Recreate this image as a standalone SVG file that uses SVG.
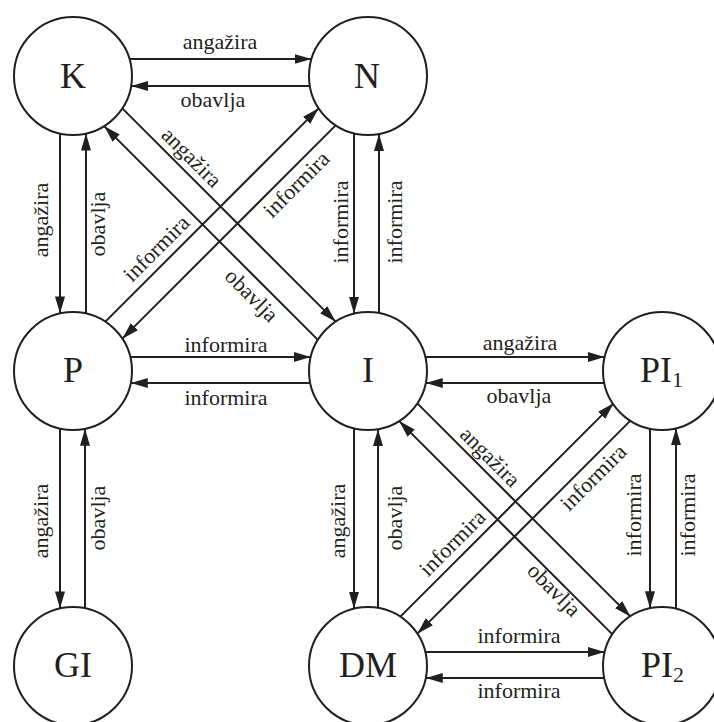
<svg xmlns="http://www.w3.org/2000/svg" width="714" height="722" viewBox="0 0 714 722">
<defs>
<marker id="ah" markerUnits="userSpaceOnUse" markerWidth="18" markerHeight="11" refX="17" refY="5" orient="auto">
<path d="M0,0 L17,5 L0,10 z" fill="#231f20"/>
</marker>
<style>
.node circle{fill:#fff;stroke:#231f20;stroke-width:2}
.node text{font-family:"Liberation Serif","Times New Roman",serif;font-size:36px;fill:#231f20;text-anchor:middle}
.node text.s{text-anchor:start}
#edges line{stroke:#231f20;stroke-width:2;marker-end:url(#ah)}
.lbl{font-family:"Liberation Serif","Times New Roman",serif;font-size:22px;fill:#231f20;text-anchor:middle}
</style>
</defs>
<rect width="714" height="722" fill="#fff"/>
<g id="edges">
<!-- K-N -->
<line x1="129.5" y1="59" x2="311.5" y2="59"/>
<line x1="309.85" y1="86" x2="131.15" y2="86"/>
<!-- P-I -->
<line x1="130.3" y1="357" x2="310.7" y2="357"/>
<line x1="310.23" y1="383" x2="130.77" y2="383"/>
<!-- I-PI1 -->
<line x1="425.3" y1="357" x2="604.7" y2="357"/>
<line x1="604.23" y1="383" x2="425.77" y2="383"/>
<!-- DM-PI2 -->
<line x1="425.3" y1="652" x2="604.7" y2="652"/>
<line x1="604.23" y1="678" x2="425.77" y2="678"/>
<!-- K-P -->
<line x1="60" y1="133.55" x2="60" y2="313.45"/>
<line x1="86" y1="313.45" x2="86" y2="133.55"/>
<!-- N-I -->
<line x1="354" y1="133.3" x2="354" y2="313.7"/>
<line x1="379" y1="313.03" x2="379" y2="133.97"/>
<!-- P-GI -->
<line x1="60" y1="428.55" x2="60" y2="608.45"/>
<line x1="85" y1="608.23" x2="85" y2="428.77"/>
<!-- I-DM -->
<line x1="354" y1="428.3" x2="354" y2="608.7"/>
<line x1="378" y1="607.85" x2="378" y2="429.15"/>
<!-- PI1-PI2 -->
<line x1="650" y1="428.77" x2="650" y2="608.23"/>
<line x1="676" y1="608.7" x2="676" y2="428.3"/>
<!-- K-I diagonals -->
<line x1="122.34" y1="108.34" x2="335.66" y2="321.66"/>
<line x1="317.88" y1="339.88" x2="104.12" y2="126.12"/>
<!-- P-N diagonals -->
<line x1="105.34" y1="321.66" x2="318.66" y2="108.34"/>
<line x1="335.66" y1="125.34" x2="122.34" y2="338.66"/>
<!-- I-PI2 diagonals -->
<line x1="417.34" y1="403.34" x2="630.66" y2="616.66"/>
<line x1="612.88" y1="634.88" x2="399.12" y2="421.12"/>
<!-- DM-PI1 diagonals -->
<line x1="400.34" y1="616.66" x2="613.66" y2="403.34"/>
<line x1="630.66" y1="420.34" x2="417.34" y2="633.66"/>
</g>
<g id="edge-labels">
<text class="lbl" x="220" y="49">angažira</text>
<text class="lbl" x="213" y="107">obavlja</text>
<text class="lbl" x="226" y="352">informira</text>
<text class="lbl" x="226" y="405">informira</text>
<text class="lbl" x="520" y="350">angažira</text>
<text class="lbl" x="519" y="403">obavlja</text>
<text class="lbl" x="519" y="643">informira</text>
<text class="lbl" x="519" y="698">informira</text>
<text class="lbl" transform="translate(48,220) rotate(-90)">angažira</text>
<text class="lbl" transform="translate(105,224) rotate(-90)">obavlja</text>
<text class="lbl" transform="translate(348,222) rotate(-90)">informira</text>
<text class="lbl" transform="translate(402,222) rotate(-90)">informira</text>
<text class="lbl" transform="translate(48,521) rotate(-90)">angažira</text>
<text class="lbl" transform="translate(105,518) rotate(-90)">obavlja</text>
<text class="lbl" transform="translate(345,521) rotate(-90)">angažira</text>
<text class="lbl" transform="translate(402,518) rotate(-90)">obavlja</text>
<text class="lbl" transform="translate(641,515) rotate(-90)">informira</text>
<text class="lbl" transform="translate(695,515) rotate(-90)">informira</text>
<text class="lbl" transform="translate(186.5,162.5) rotate(45)">angažira</text>
<text class="lbl" transform="translate(246.5,300.5) rotate(45)">obavlja</text>
<text class="lbl" transform="translate(161.5,253.5) rotate(-45)">informira</text>
<text class="lbl" transform="translate(301.5,189.5) rotate(-45)">informira</text>
<text class="lbl" transform="translate(485,462) rotate(45)">angažira</text>
<text class="lbl" transform="translate(549,595) rotate(45)">obavlja</text>
<text class="lbl" transform="translate(457.5,548) rotate(-45)">informira</text>
<text class="lbl" transform="translate(598.5,482.5) rotate(-45)">informira</text>
</g>
<g id="K" class="node"><circle cx="73" cy="76" r="59"/><text x="73" y="88">K</text></g>
<g id="N" class="node"><circle cx="368" cy="76" r="59"/><text x="367" y="88">N</text></g>
<g id="P" class="node"><circle cx="73" cy="371" r="59"/><text x="73" y="382">P</text></g>
<g id="I" class="node"><circle cx="368" cy="371" r="59"/><text x="368" y="382">I</text></g>
<g id="PI1" class="node"><circle cx="662" cy="371" r="59"/><text class="s" x="640" y="382">PI<tspan font-size="22" dy="5">1</tspan></text></g>
<g id="GI" class="node"><circle cx="73" cy="666" r="59"/><text x="73" y="677">GI</text></g>
<g id="DM" class="node"><circle cx="368" cy="666" r="59"/><text x="368" y="677">DM</text></g>
<g id="PI2" class="node"><circle cx="662" cy="666" r="59"/><text class="s" x="641" y="677">PI<tspan font-size="22" dy="5">2</tspan></text></g>
</svg>
